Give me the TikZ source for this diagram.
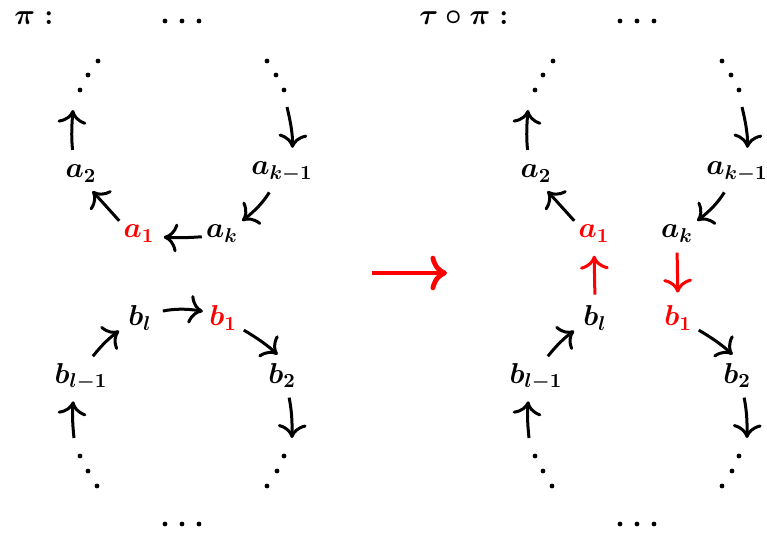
\documentclass[tikz,border=0pt]{standalone}
\usetikzlibrary{arrows.meta}

\begin{document}
\begin{tikzpicture}[
  x=0.5pt, y=-0.5pt,
  >={To[scale=1.4]},
  elem/.style={font=\Large\boldmath, inner sep=2pt, anchor=base},
  title/.style={font=\Large\boldmath, inner sep=1pt, anchor=base west},
  hot/.style={text=red},
  link/.style={->, line width=1.5pt},
  flip/.style={->, line width=1.5pt, color=red},
  swapto/.style={-{To[scale=1.2]}, line width=2.4pt, color=red}
]
\useasboundingbox (0,0) rectangle (767,535);

% ── Titles ────────────────────────────────────────────────────────────────
\node[title] (pititle) at (12,25) {$\pi :$};
\node[title] (tautitle) at (417,25) {$\tau\circ\pi :$};

% ── Left cycle: elements ──────────────────────────────────────────────────
\node[elem] (a2)  at (81,178)  {$a_2$};
\node[elem] (akm) at (282,175) {$a_{k-1}$};
\node[elem, hot] (a1) at (139,238) {$a_1$};
\node[elem] (ak)  at (222,238) {$a_k$};
\node[elem] (bl)  at (140,326) {$b_l$};
\node[elem, hot] (b1) at (223,326) {$b_1$};
\node[elem] (blm) at (81,383)  {$b_{l-1}$};
\node[elem] (b2)  at (282,383) {$b_2$};

% free ends at the dots
\coordinate (tlE) at (73,110);
\coordinate (trS) at (287,107);
\coordinate (blS) at (74,438);
\coordinate (brE) at (292,438);

% ── Left cycle: dots ──────────────────────────────────────────────────────
\fill (165,21) circle (1.2pt) (182,21) circle (1.2pt) (199,21) circle (1.2pt);
\fill (98,61) circle (1.2pt) (88,75) circle (1.2pt) (80,90) circle (1.2pt);
\fill (267,61) circle (1.2pt) (276,75) circle (1.2pt) (284,90) circle (1.2pt);
\fill (80,456) circle (1.2pt) (88,471) circle (1.2pt) (97,486) circle (1.2pt);
\fill (284,456) circle (1.2pt) (277,471) circle (1.2pt) (267,486) circle (1.2pt);
\fill (165,524) circle (1.2pt) (182,524) circle (1.2pt) (199,524) circle (1.2pt);

% ── Left cycle: arrows ────────────────────────────────────────────────────
\draw[link, shorten <=5.5pt] ([xshift=-3.5pt]a2.north) to[bend left=6] (tlE);
\draw[link, shorten >=5pt] (trS) to[bend left=8] ([xshift=5pt]akm.north);
\draw[link, shorten <=3.5pt] ([xshift=-4.5pt]akm.south) to[bend left=10] (ak.north east);
\draw[link, shorten >=2.5pt] ([yshift=-1.5pt]ak.west) to[bend left=4] ([yshift=-1.5pt]a1.east);
\draw[link, shorten >=3pt] (a1.north west) -- (a2.-60);
\draw[link, shorten <=1.5pt, shorten >=3pt] ([xshift=5pt]blm.north) to[bend left=8] (bl.-150);
\draw[link, shorten <=3.5pt, shorten >=1pt] (bl.20) to[bend left=10] (b1.160);
\draw[link, shorten <=1.5pt, shorten >=3pt] (b1.-30) to[bend left=6] (b2.north);
\draw[link, shorten <=3pt] ([xshift=3pt]b2.south) to[bend left=6] (brE);
\draw[link, shorten >=3.5pt] (blS) to[bend left=6] ([xshift=-3.5pt]blm.south);

% ── Middle arrow ──────────────────────────────────────────────────────────
\coordinate (midS) at (372,273);
\coordinate (midE) at (447,273);
\draw[swapto] (midS) -- (midE);

% ── Right cycle: elements ─────────────────────────────────────────────────
\node[elem] (ra2)  at (536,178) {$a_2$};
\node[elem] (rakm) at (737,175) {$a_{k-1}$};
\node[elem, hot] (ra1) at (594,238) {$a_1$};
\node[elem] (rak)  at (677,238) {$a_k$};
\node[elem] (rbl)  at (595,326) {$b_l$};
\node[elem, hot] (rb1) at (678,326) {$b_1$};
\node[elem] (rblm) at (536,383) {$b_{l-1}$};
\node[elem] (rb2)  at (737,383) {$b_2$};

\coordinate (rtlE) at (528,110);
\coordinate (rtrS) at (742,107);
\coordinate (rblS) at (529,438);
\coordinate (rbrE) at (747,438);

% ── Right cycle: dots ─────────────────────────────────────────────────────
\fill (620,21) circle (1.2pt) (637,21) circle (1.2pt) (654,21) circle (1.2pt);
\fill (553,61) circle (1.2pt) (543,75) circle (1.2pt) (535,90) circle (1.2pt);
\fill (722,61) circle (1.2pt) (731,75) circle (1.2pt) (739,90) circle (1.2pt);
\fill (535,456) circle (1.2pt) (543,471) circle (1.2pt) (552,486) circle (1.2pt);
\fill (739,456) circle (1.2pt) (732,471) circle (1.2pt) (722,486) circle (1.2pt);
\fill (620,524) circle (1.2pt) (637,524) circle (1.2pt) (654,524) circle (1.2pt);

% ── Right cycle: arrows ───────────────────────────────────────────────────
\draw[link, shorten <=5.5pt] ([xshift=-3.5pt]ra2.north) to[bend left=6] (rtlE);
\draw[link, shorten >=5pt] (rtrS) to[bend left=8] ([xshift=5pt]rakm.north);
\draw[link, shorten <=3.5pt] ([xshift=-4.5pt]rakm.south) to[bend left=10] (rak.north east);
\draw[link, shorten >=3pt] (ra1.north west) -- (ra2.-60);
\draw[link, shorten <=1.5pt, shorten >=3pt] ([xshift=5pt]rblm.north) to[bend left=8] (rbl.-150);
\draw[link, shorten <=1.5pt, shorten >=3pt] (rb1.-30) to[bend left=6] (rb2.north);
\draw[link, shorten <=3pt] ([xshift=3pt]rb2.south) to[bend left=6] (rbrE);
\draw[link, shorten >=3.5pt] (rblS) to[bend left=6] ([xshift=-3.5pt]rblm.south);

% swapped links
\draw[flip, shorten <=3.5pt, shorten >=4.5pt] (rbl.north) -- (ra1.south);
\draw[flip, shorten <=3pt, shorten >=4.5pt] (rak.south) -- (rb1.north);

\end{tikzpicture}
\end{document}
